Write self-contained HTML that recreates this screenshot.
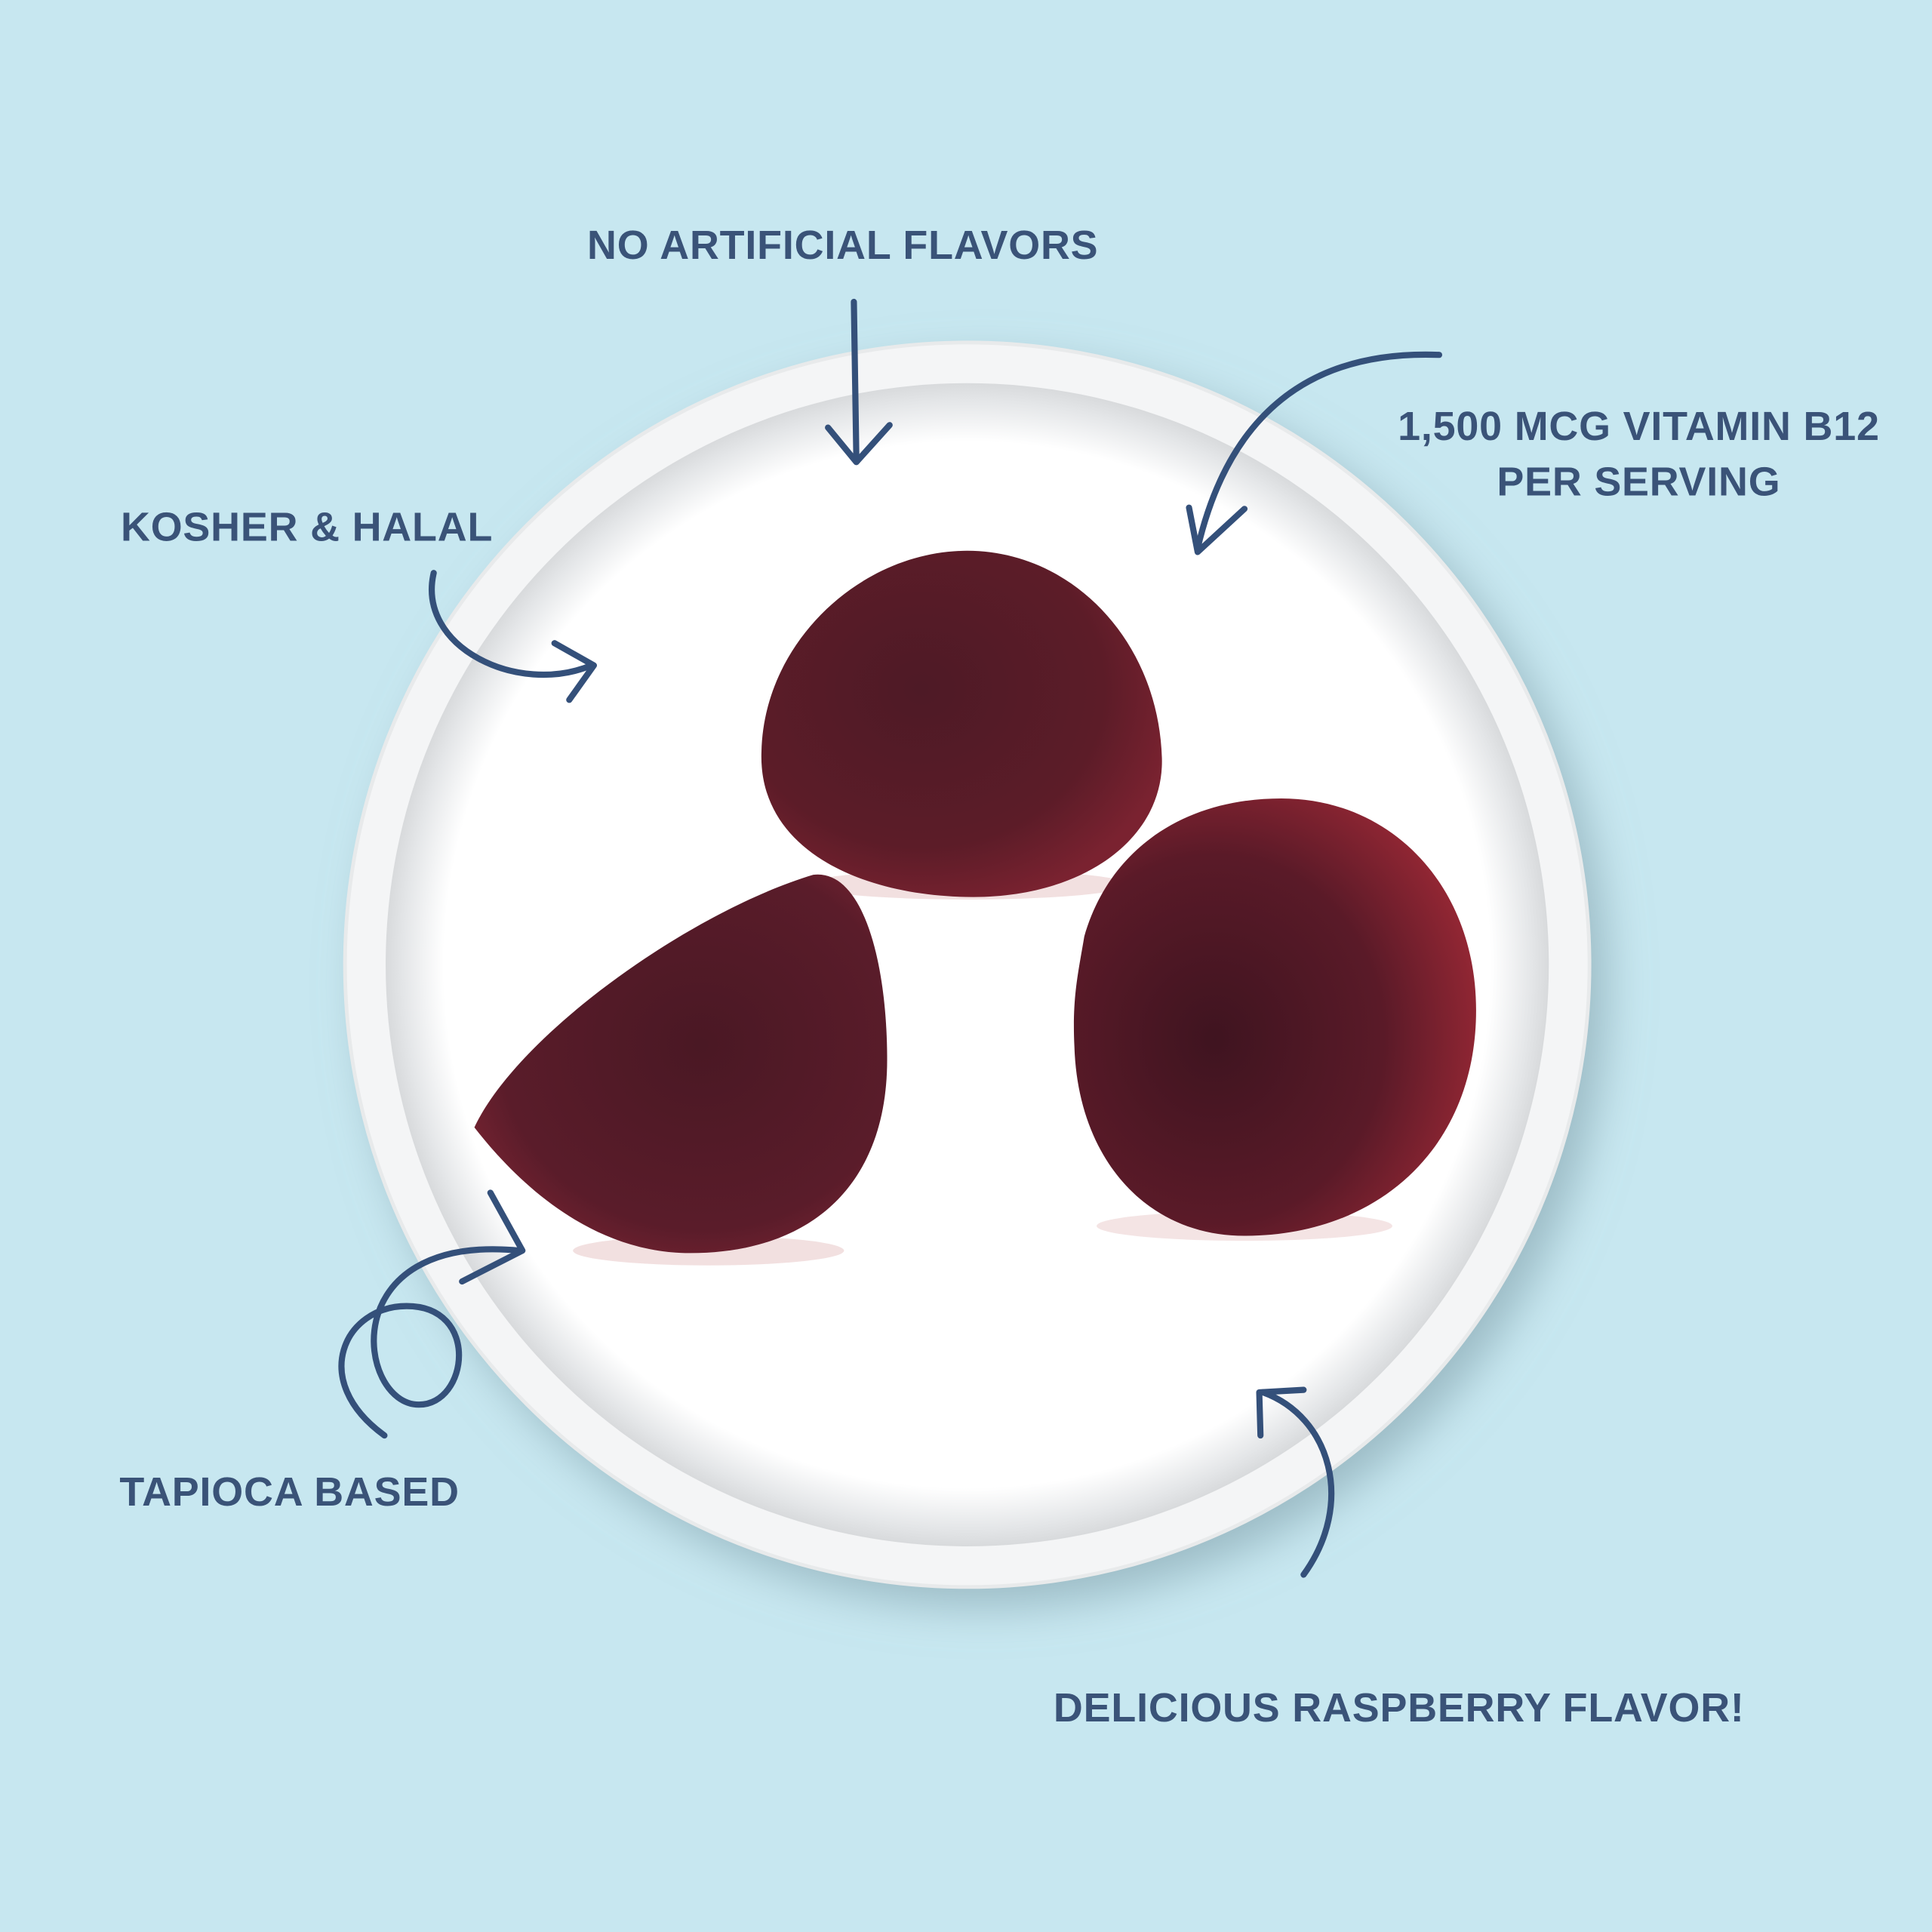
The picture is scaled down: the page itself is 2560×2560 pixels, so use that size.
<!DOCTYPE html>
<html><head><meta charset="utf-8"><style>
html,body{margin:0;padding:0;background:#c7e7f0;}
svg{display:block}
text{font-family:"Liberation Sans",sans-serif;font-weight:bold;fill:#3a5378;font-size:33px;letter-spacing:0.5px}
</style></head><body>
<svg width="2560" height="2560" viewBox="0 0 1568 1568" xmlns="http://www.w3.org/2000/svg">
<defs>
<filter id="sh" x="-20%" y="-20%" width="140%" height="140%">
<feDropShadow dx="14" dy="16" stdDeviation="18" flood-color="#7e9ea8" flood-opacity="0.6"/>
</filter>
<radialGradient id="rim" cx="50%" cy="50%" r="50%">
<stop offset="0.9" stop-color="#ffffff"/>
<stop offset="0.97" stop-color="#e4e6e8"/>
<stop offset="1" stop-color="#d8dadc"/>
</radialGradient>
<radialGradient id="g1" cx="40%" cy="40%" r="65%">
<stop offset="0" stop-color="#4e1a26"/>
<stop offset="0.7" stop-color="#5c1c28"/>
<stop offset="1" stop-color="#7a2230"/>
</radialGradient>
<radialGradient id="g2" cx="35%" cy="55%" r="70%">
<stop offset="0" stop-color="#3f1420"/>
<stop offset="0.6" stop-color="#5a1a28"/>
<stop offset="1" stop-color="#9a2835"/>
</radialGradient>
<radialGradient id="g3" cx="55%" cy="45%" r="65%">
<stop offset="0" stop-color="#4a1824"/>
<stop offset="0.75" stop-color="#5a1c2a"/>
<stop offset="1" stop-color="#7a2432"/>
</radialGradient>
</defs>
<rect width="1568" height="1568" fill="#c7e7f0"/>
<circle cx="785" cy="783" r="505" fill="#f4f5f6" filter="url(#sh)"/>
<circle cx="785" cy="783" r="505" fill="none" stroke="#e8eaeb" stroke-width="3"/>
<circle cx="785" cy="783" r="472" fill="url(#rim)"/>
<ellipse cx="575" cy="1015" rx="110" ry="12" fill="#d9a5a5" opacity="0.35"/>
<ellipse cx="785" cy="718" rx="130" ry="12" fill="#d9a5a5" opacity="0.35"/>
<ellipse cx="1010" cy="995" rx="120" ry="12" fill="#d9a5a5" opacity="0.3"/>
<!-- top gummy -->
<path d="M618 610 C620 520 700 447 785 447 C870 447 940 520 943 615 C945 680 880 728 790 728 C700 728 615 690 618 610 Z" fill="url(#g1)"/>
<!-- right gummy -->
<path d="M880 760 C900 690 960 648 1040 648 C1130 648 1198 720 1198 820 C1198 930 1120 1003 1010 1003 C930 1003 875 940 872 850 C870 810 875 790 880 760 Z" fill="url(#g2)"/>
<!-- left gummy -->
<path d="M385 915 C420 840 560 740 660 710 C700 705 720 780 720 860 C720 960 660 1017 560 1017 C480 1017 420 960 385 915 Z" fill="url(#g3)"/>
<g fill="none" stroke="#34507a" stroke-width="5" stroke-linecap="round" stroke-linejoin="round">
<path d="M693 245 L695 372"/>
<path d="M672 347 L695 375 L722 345"/>
<path d="M1168 288 Q1010 282 972 445"/>
<path d="M965 412 L972 448 L1010 413"/>
<path d="M352 465 C338 525 420 565 480 540"/>
<path d="M450 522 L482 540 L462 568"/>
<path d="M312 1165 C250 1120 280 1060 330 1060 C390 1060 380 1140 340 1140 C290 1140 270 1000 422 1015"/>
<path d="M398 968 L424 1015 L375 1040"/>
<path d="M1058 1278 C1100 1220 1080 1150 1025 1130"/>
<path d="M1023 1165 L1022 1130 L1058 1128"/>
</g>
<text x="684" y="210" text-anchor="middle">NO ARTIFICIAL FLAVORS</text>
<text x="1330" y="357" text-anchor="middle">1,500 MCG VITAMIN B12</text>
<text x="1330" y="402" text-anchor="middle">PER SERVING</text>
<text x="98" y="439">KOSHER &amp; HALAL</text>
<text x="97" y="1222">TAPIOCA BASED</text>
<text x="855" y="1397">DELICIOUS RASPBERRY FLAVOR!</text>
</svg>
</body></html>
